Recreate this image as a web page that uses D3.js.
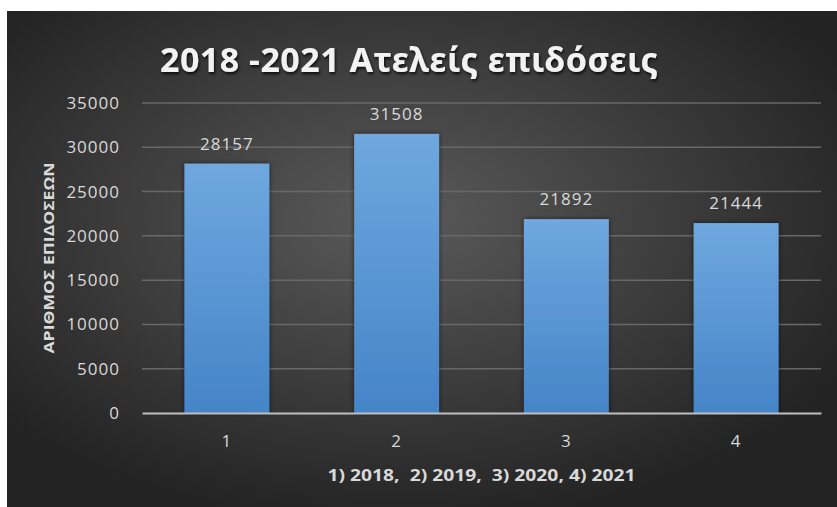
<!DOCTYPE html>
<html>
<head>
<meta charset="utf-8">
<script src="https://cdn.jsdelivr.net/npm/d3@7"></script>
<style>
  body { margin: 0; background: #ffffff; }
  svg { display: block; }
  .tick text { fill: #d9d9d9; font-family: "Open Sans", sans-serif; letter-spacing: 1px; }
</style>
</head>
<body>
<div id="chart"></div>
<script>
// Data
var categories = ["1", "2", "3", "4"];
var values = [28157, 31508, 21892, 21444];
var yTicks = [0, 5000, 10000, 15000, 20000, 25000, 30000, 35000];

var width = 837;
var height = 507;

// plot area
var plotLeft = 142, plotRight = 821, plotTop = 103, plotBottom = 413;

var svg = d3.select("#chart")
  .append("svg")
  .attr("width", width)
  .attr("height", height);

var defs = svg.append("defs");

// background gradient
var bg = defs.append("radialGradient")
  .attr("id", "bgGrad")
  .attr("cx", "47%").attr("cy", "42%").attr("r", "62%");
bg.append("stop").attr("offset", "0%").attr("stop-color", "#5a5a5a");
bg.append("stop").attr("offset", "100%").attr("stop-color", "#232323");

// bar gradient
var barGrad = defs.append("linearGradient")
  .attr("id", "barGrad")
  .attr("x1", 0).attr("y1", 0).attr("x2", 0).attr("y2", 1);
barGrad.append("stop").attr("offset", "0%").attr("stop-color", "#6fa8df");
barGrad.append("stop").attr("offset", "100%").attr("stop-color", "#4584c8");

// shadow for bars
var shadow = defs.append("filter").attr("id", "barShadow")
  .attr("x", "-20%").attr("y", "-10%").attr("width", "140%").attr("height", "120%");
shadow.append("feDropShadow")
  .attr("dx", 0).attr("dy", 0).attr("stdDeviation", 2.5)
  .attr("flood-color", "#000").attr("flood-opacity", 0.6);

// title shadow
var tShadow = defs.append("filter").attr("id", "titleShadow")
  .attr("x", "-10%").attr("y", "-30%").attr("width", "120%").attr("height", "160%");
tShadow.append("feDropShadow")
  .attr("dx", 1).attr("dy", 2).attr("stdDeviation", 1.5)
  .attr("flood-color", "#000").attr("flood-opacity", 0.8);

svg.append("rect")
  .attr("x", 7).attr("y", 11)
  .attr("width", width - 7).attr("height", height - 11)
  .attr("fill", "url(#bgGrad)");

// Scales
var xScale = d3.scaleBand()
  .domain(categories)
  .range([plotLeft, plotRight])
  .paddingInner(0.5)
  .paddingOuter(0.25);

var yScale = d3.scaleLinear()
  .domain([0, 35000])
  .range([plotBottom, plotTop]);

// Gridlines
svg.append("g")
  .selectAll("line")
  .data(yTicks.slice(1))
  .enter()
  .append("line")
  .attr("x1", plotLeft).attr("x2", plotRight)
  .attr("y1", function(d) { return yScale(d); })
  .attr("y2", function(d) { return yScale(d); })
  .attr("stroke", "#686868")
  .attr("stroke-width", 1.5);

// Y axis
var yAxis = d3.axisLeft(yScale)
  .tickValues(yTicks)
  .tickFormat(d3.format("d"))
  .tickSize(0)
  .tickPadding(22);
var yG = svg.append("g")
  .attr("transform", "translate(" + plotLeft + ",0)")
  .call(yAxis);
yG.select(".domain").remove();
yG.selectAll("text").attr("font-size", 17);

// Bars
svg.append("g")
  .selectAll("rect")
  .data(values)
  .enter()
  .append("rect")
  .attr("x", function(d, i) { return xScale(categories[i]); })
  .attr("y", function(d) { return yScale(d); })
  .attr("width", xScale.bandwidth())
  .attr("height", function(d) { return plotBottom - yScale(d); })
  .attr("fill", "url(#barGrad)")
  .attr("filter", "url(#barShadow)");

// Value labels
svg.append("g")
  .selectAll("text")
  .data(values)
  .enter()
  .append("text")
  .attr("x", function(d, i) { return xScale(categories[i]) + xScale.bandwidth() / 2; })
  .attr("y", function(d) { return yScale(d) - 14; })
  .attr("text-anchor", "middle")
  .attr("font-family", "Open Sans, sans-serif")
  .attr("font-size", 17)
  .attr("letter-spacing", 1)
  .attr("fill", "#d9d9d9")
  .text(function(d) { return d; });

// X axis
var xAxis = d3.axisBottom(xScale).tickSize(0).tickPadding(22);
var xG = svg.append("g")
  .attr("transform", "translate(0," + plotBottom + ")")
  .call(xAxis);
xG.select(".domain")
  .attr("stroke", "#bfbfbf")
  .attr("stroke-width", 2);
xG.selectAll("text").attr("font-size", 17);

// Title
svg.append("text")
  .attr("x", 409)
  .attr("y", 72)
  .attr("text-anchor", "middle")
  .attr("font-family", "Noto Sans, sans-serif")
  .attr("font-weight", "bold")
  .attr("font-size", 34)
  .attr("fill", "#f2f2f2")
  .attr("textLength", 498)
  .attr("lengthAdjust", "spacing")
  .attr("filter", "url(#titleShadow)")
  .text("2018 -2021 Ατελείς επιδόσεις");

// Axis titles
svg.append("text")
  .attr("transform", "translate(54,258)rotate(-90)")
  .attr("text-anchor", "middle")
  .attr("font-family", "Open Sans, sans-serif")
  .attr("font-weight", "bold")
  .attr("font-size", 15)
  .attr("fill", "#d9d9d9")
  .attr("textLength", 191)
  .attr("lengthAdjust", "spacingAndGlyphs")
  .text("ΑΡΙΘΜΟΣ ΕΠΙΔΟΣΕΩΝ");

svg.append("text")
  .attr("x", (plotLeft + plotRight) / 2)
  .attr("y", 481)
  .attr("text-anchor", "middle")
  .attr("font-family", "Open Sans, sans-serif")
  .attr("font-weight", "bold")
  .attr("font-size", 16)
  .attr("fill", "#d9d9d9")
  .attr("xml:space", "preserve")
  .attr("textLength", 308)
  .attr("lengthAdjust", "spacingAndGlyphs")
  .text("1) 2018,  2) 2019,  3) 2020, 4) 2021");
</script>
</body>
</html>
